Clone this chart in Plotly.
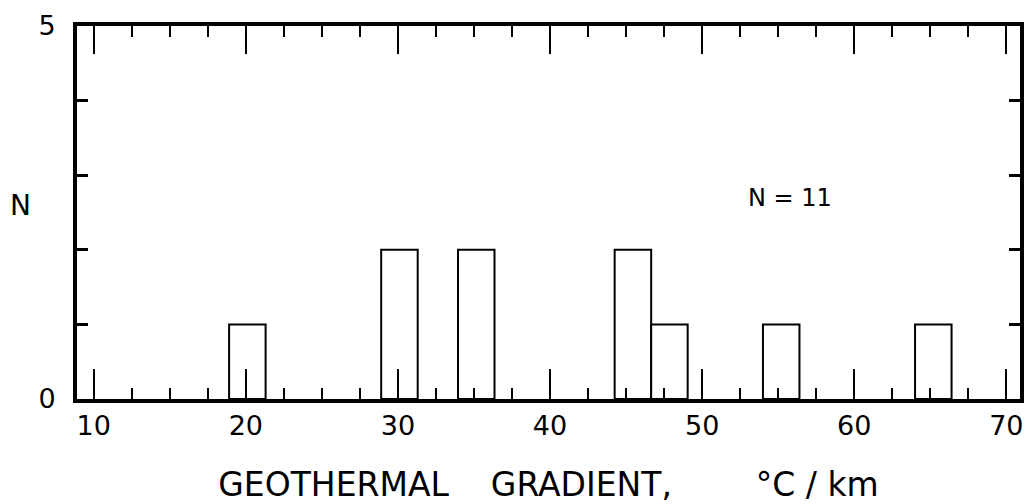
import plotly.graph_objects as go

# Histogram data
bin_centers = [20.1, 30.1, 35.15, 45.45, 47.85, 55.2, 65.2]
bin_width = 2.4
counts = [1, 2, 2, 2, 1, 1, 1]

x_ticks = [10, 20, 30, 40, 50, 60, 70]
x_minor_step = 2.5
y_ticks = [0, 5]
x_range = [8.9, 70.9]

FONT = "DejaVu Sans"
NB = "\u00a0"

fig = go.Figure()
fig.add_trace(go.Bar(
    x=bin_centers, y=counts, width=bin_width,
    marker=dict(color="white", line=dict(color="black", width=2)),
    showlegend=False, hoverinfo="skip",
))
# invisible helper trace so that the top (mirror) axis is drawn with its ticks
fig.add_trace(go.Scatter(x=x_range, y=[-1, -1], xaxis="x2", yaxis="y", mode="markers",
                         marker=dict(opacity=0), showlegend=False, hoverinfo="skip"))

minor_x = dict(dtick=x_minor_step, tick0=0, ticks="inside", ticklen=11, tickwidth=2,
               tickcolor="black", showgrid=False)

fig.update_layout(
    width=1029, height=504,
    margin=dict(l=77, r=5, t=26, b=105),
    paper_bgcolor="white", plot_bgcolor="white",
    font=dict(family=FONT, color="black"),
    xaxis=dict(
        range=x_range, tickvals=x_ticks, ticktext=[str(v) for v in x_ticks],
        ticks="inside", ticklen=30, tickwidth=2, tickcolor="black",
        minor=minor_x,
        showline=True, linewidth=4, linecolor="black", mirror=True,
        showgrid=False, zeroline=False,
        tickfont=dict(size=27, family=FONT),
        ticklabelstandoff=0,
        title=dict(text="GEOTHERMAL" + NB * 4 + "GRADIENT," + NB * 8 + "°C / km",
                   font=dict(size=33, family=FONT), standoff=34),
    ),
    xaxis2=dict(
        overlaying="x", side="top", anchor="y", range=x_range,
        tickvals=x_ticks, ticks="inside", ticklen=28, tickwidth=2, tickcolor="black",
        minor=minor_x,
        showticklabels=False, showline=False, showgrid=False, zeroline=False,
    ),
    yaxis=dict(
        range=[0, 5], tickvals=y_ticks, ticktext=["0", "5"],
        ticks="inside", ticklen=11, tickwidth=3, tickcolor="black",
        minor=dict(dtick=1, tick0=0, ticks="inside", ticklen=11, tickwidth=3, tickcolor="black", showgrid=False),
        showline=True, linewidth=4, linecolor="black", mirror="ticks",
        showgrid=False, zeroline=False,
        tickfont=dict(size=27, family=FONT),
        ticklabelstandoff=12,
    ),
    annotations=[
        dict(text="N", x=-0.06, xref="paper", y=2.6, yref="y", showarrow=False,
             font=dict(size=28, family=FONT), xanchor="center", yanchor="middle"),
        dict(text="N = 11", x=55.8, xref="x", y=2.7, yref="y", showarrow=False,
             font=dict(size=24, family=FONT), xanchor="center", yanchor="middle"),
    ],
)

fig.write_html("out.html")
